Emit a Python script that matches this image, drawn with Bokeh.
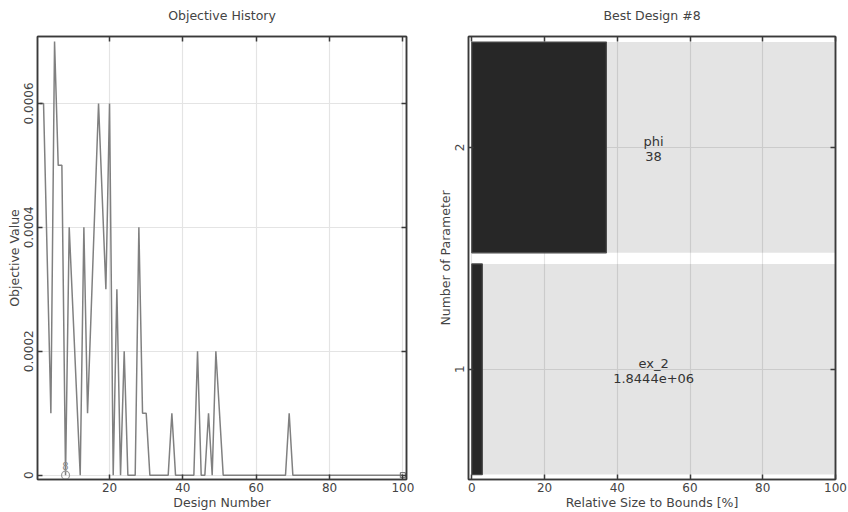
import math
from bokeh.plotting import figure
from bokeh.layouts import row
from bokeh.models import (LinearAxis, FixedTicker, ColumnDataSource, Range1d,
                          CustomJSTickFormatter)
from bokeh.core.properties import value
from bokeh.embed import file_html
from bokeh.resources import INLINE

FONT = "DejaVu Sans"
TXT = "#444444"
FRAME = "#3a3a3a"
GRID = "#e4e4e4"

# ---------------- data: objective history ----------------
left_title = "Objective History"
design_number = [1, 2, 4, 5, 6, 7, 8, 9, 12, 13, 14, 17, 19, 20, 21, 22, 23, 24, 25, 27,
                 28, 29, 30, 31, 36, 37, 38, 43, 44, 45, 46, 47, 48, 49, 51, 68, 69, 70, 100]
objective_value = [0.0006, 0.0006, 0.0001, 0.0007, 0.0005, 0.0005, 0.0, 0.0004, 0.0, 0.0004,
                   0.0001, 0.0006, 0.0003, 0.0006, 0.0, 0.0003, 0.0, 0.0002, 0.0, 0.0,
                   0.0004, 0.0001, 0.0001, 0.0, 0.0, 0.0001, 0.0, 0.0, 0.0002, 0.0,
                   0.0, 0.0001, 0.0, 0.0002, 0.0, 0.0, 0.0001, 0.0, 0.0]
best_design = [8]
best_value = [0.0]
best_label = ["8"]
last_design = [100]
last_value = [0.0]
left_x_ticks = [20, 40, 60, 80, 100]
left_y_ticks = [0, 0.0002, 0.0004, 0.0006]
left_y_tick_labels = ["0", "0.0002", "0.0004", "0.0006"]

# ---------------- data: best design ----------------
right_title = "Best Design #8"
param_number = [1, 2]
param_name = ["ex_2", "phi"]
param_value = ["1.8444e+06", "38"]
relative_size = [2.9, 37.0]
bound_size = [100, 100]
right_x_ticks = [0, 20, 40, 60, 80, 100]
right_y_ticks = [1, 2]


def blank_formatter():
    return CustomJSTickFormatter(code="return ''")


def style(p, xticks, yticks):
    p.outline_line_color = FRAME
    p.outline_line_width = 1.5
    p.background_fill_color = "white"
    p.border_fill_color = "white"
    p.title.align = "center"
    p.title.text_font = FONT
    p.title.text_font_size = "12.5px"
    p.title.text_font_style = "normal"
    p.title.text_color = TXT
    for ax in (p.xaxis[0], p.yaxis[0]):
        ax.axis_line_color = FRAME
        ax.axis_line_width = 1.5
        ax.major_tick_in = 5
        ax.major_tick_out = 0
        ax.major_tick_line_color = FRAME
        ax.major_tick_line_width = 1.5
        ax.minor_tick_line_color = None
        ax.major_label_text_font = FONT
        ax.major_label_text_font_size = "12px"
        ax.major_label_text_color = TXT
        ax.axis_label_text_font = FONT
        ax.axis_label_text_font_size = "12.5px"
        ax.axis_label_text_font_style = "normal"
        ax.axis_label_text_color = TXT
    p.xaxis[0].ticker = FixedTicker(ticks=xticks)
    p.yaxis[0].ticker = FixedTicker(ticks=yticks)
    p.xaxis[0].major_label_standoff = 3
    p.xaxis[0].axis_label_standoff = 0
    p.yaxis[0].major_label_standoff = 4
    p.yaxis[0].axis_label_standoff = 0
    p.yaxis[0].major_label_orientation = "vertical"
    p.xgrid.grid_line_color = GRID
    p.ygrid.grid_line_color = GRID
    p.xgrid.grid_line_width = 1.2
    p.ygrid.grid_line_width = 1.2
    # mirrored axes (ticks only)
    top = LinearAxis(ticker=FixedTicker(ticks=xticks), formatter=blank_formatter())
    right = LinearAxis(ticker=FixedTicker(ticks=yticks), formatter=blank_formatter())
    for ax in (top, right):
        ax.axis_line_color = FRAME
        ax.axis_line_width = 1.5
        ax.major_tick_in = 5
        ax.major_tick_out = 0
        ax.major_tick_line_color = FRAME
        ax.major_tick_line_width = 1.5
        ax.minor_tick_line_color = None
        ax.major_label_standoff = 0
        ax.major_label_text_font_size = "1px"
    p.add_layout(top, "above")
    p.add_layout(right, "right")
    # invisible spacer axis that lifts the title away from the frame
    spacer = LinearAxis(ticker=FixedTicker(ticks=xticks), formatter=blank_formatter(),
                        axis_line_color=None, major_tick_line_color=None,
                        minor_tick_line_color=None, major_tick_in=0, major_tick_out=9,
                        major_label_standoff=0, major_label_text_font_size="1px")
    p.add_layout(spacer, "above")


# ---------------- left figure ----------------
p1 = figure(width=424, height=512, output_backend="svg", toolbar_location=None,
            title=left_title,
            x_range=Range1d(0.35, 101), y_range=Range1d(-0.000007, 0.000708),
            min_border_left=37, min_border_right=18, min_border_top=35, min_border_bottom=30)
p1.xaxis.axis_label = "Design Number"
p1.yaxis.axis_label = "Objective Value"
style(p1, left_x_ticks, left_y_ticks)
p1.yaxis[0].major_label_overrides = {t: s for t, s in zip(left_y_ticks, left_y_tick_labels)}

src_hist = ColumnDataSource(dict(x=design_number, y=objective_value))
p1.line("x", "y", source=src_hist, line_color="#808080", line_width=1.5)
src_best = ColumnDataSource(dict(x=best_design, y=best_value, t=best_label))
p1.scatter("x", "y", source=src_best, marker="circle", size=8, fill_color=None,
           line_color="#9a9a9a", line_width=1.2)
p1.text("x", "y", text="t", source=src_best, text_align="center", text_baseline="bottom",
        y_offset=-5, text_font_size="10px", text_color="#8a8a8a", text_font=value(FONT))
src_last = ColumnDataSource(dict(x=last_design, y=last_value))
p1.scatter("x", "y", source=src_last, marker="square", size=5, fill_color=None,
           line_color="#666666", line_width=1.0)

# ---------------- right figure ----------------
p2 = figure(width=424, height=512, output_backend="svg", toolbar_location=None,
            title=right_title,
            x_range=Range1d(-0.9, 100), y_range=Range1d(0.503, 2.5),
            min_border_left=44, min_border_right=13, min_border_top=35, min_border_bottom=30)
p2.xaxis.axis_label = "Relative Size to Bounds [%]"
p2.yaxis.axis_label = "Number of Parameter"
style(p2, right_x_ticks, right_y_ticks)

src_bars = ColumnDataSource(dict(y=param_number, size=relative_size, bound=bound_size,
                                 label=[n + "\n" + v for n, v in zip(param_name, param_value)],
                                 mid=[b / 2 for b in bound_size]))
p2.hbar(y="y", left=0, right="bound", height=0.95, source=src_bars,
        fill_color="black", fill_alpha=0.105, line_color=None)
p2.hbar(y="y", left=0, right="size", height=0.95, source=src_bars,
        fill_color="#272727", line_color="#4a4a4a", line_width=1.2)
p2.text(x="mid", y="y", text="label", source=src_bars, text_align="center",
        text_baseline="middle", y_offset=2, text_font_size="13px", text_color="#333333",
        text_font=value(FONT), text_line_height=1.0)

layout = row(p1, p2)
open("out.html", "w").write(file_html(layout, INLINE))
